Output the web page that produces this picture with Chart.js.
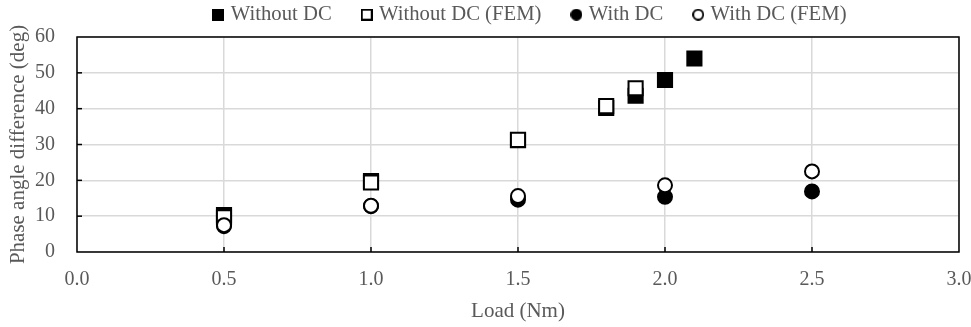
<!DOCTYPE html>
<html>
<head>
<meta charset="utf-8">
<script src="https://cdn.jsdelivr.net/npm/chart.js@4"></script>
<style>
  html, body { margin: 0; padding: 0; background: #fff; }
  #wrap { width: 971px; height: 327px; }
</style>
</head>
<body>
<div id="wrap"><canvas id="chart"></canvas></div>
<script>
// ───── Phase angle difference vs load ─────────────────────────────────────
const loadWithoutDC     = [0.5, 1.0, 1.5, 1.8, 1.9, 2.0, 2.1];
const phaseWithoutDC    = [10.3, 19.8, 31.2, 40.2, 43.6, 48.0, 54.0];
const loadWithoutDCFem  = [0.5, 1.0, 1.5, 1.8, 1.9];
const phaseWithoutDCFem = [9.7, 19.4, 31.3, 40.7, 45.7];
const loadWithDC        = [0.5, 1.0, 1.5, 2.0, 2.5];
const phaseWithDC       = [7.2, 12.8, 14.6, 15.4, 16.9];
const loadWithDCFem     = [0.5, 1.0, 1.5, 2.0, 2.5];
const phaseWithDCFem    = [7.5, 12.9, 15.6, 18.6, 22.5];

const FONT = '"Liberation Serif", "Times New Roman", serif';
const TEXT = '#595959';

const toPoints = (xs, ys) => xs.map((x, i) => ({ x, y: ys[i] }));

// Small legend icons (square / circle, filled or hollow).
function legendIcon(shape, filled) {
  const c = document.createElement('canvas');
  c.width = 12;
  c.height = 12;
  const g = c.getContext('2d');
  g.fillStyle = filled ? '#000' : '#fff';
  g.strokeStyle = '#000';
  g.lineWidth = 2;
  g.beginPath();
  if (shape === 'rect') g.rect(1, 1, 10, 10);
  else g.arc(6, 6, 5, 0, Math.PI * 2);
  g.fill();
  g.stroke();
  return c;
}
const icons = [
  legendIcon('rect', true),
  legendIcon('rect', false),
  legendIcon('circle', true),
  legendIcon('circle', false),
];

// Inner tick marks, the black frame, and a nudge for the legend block.
const frame = {
  id: 'frame',
  afterLayout(chart) {
    const lg = chart.legend;
    lg.left += 52;
    lg.right += 52;
    lg.top -= 2;
    lg.bottom -= 2;
  },
  beforeDatasetsDraw(chart) {
    const { ctx, chartArea: a, scales: { x, y } } = chart;
    ctx.save();
    ctx.strokeStyle = '#000';
    ctx.lineWidth = 1.5;
    for (let v = 0.5; v < 3; v += 0.5) {
      const px = x.getPixelForValue(v);
      ctx.beginPath();
      ctx.moveTo(px, a.bottom);
      ctx.lineTo(px, a.bottom - 5);
      ctx.stroke();
    }
    for (let v = 10; v < 60; v += 10) {
      const py = y.getPixelForValue(v);
      ctx.beginPath();
      ctx.moveTo(a.left, py);
      ctx.lineTo(a.left + 5, py);
      ctx.stroke();
    }
    ctx.strokeRect(a.left, a.top, a.right - a.left, a.bottom - a.top);
    ctx.restore();
  },
};

const marker = (label, data, style, filled, order) => ({
  label,
  data,
  order,
  pointStyle: style,
  pointRadius: style === 'rect' ? 10 : 7,
  pointHoverRadius: style === 'rect' ? 10 : 7,
  pointBorderWidth: 2,
  borderWidth: 2,
  borderColor: '#000',
  backgroundColor: filled ? '#000' : '#fff',
  pointBackgroundColor: filled ? '#000' : '#fff',
  pointBorderColor: '#000',
  showLine: false,
});

new Chart(document.getElementById('chart'), {
  type: 'scatter',
  data: {
    datasets: [
      marker('Without DC', toPoints(loadWithoutDC, phaseWithoutDC), 'rect', true, 3),
      marker('Without DC (FEM)', toPoints(loadWithoutDCFem, phaseWithoutDCFem), 'rect', false, 2),
      marker('With DC', toPoints(loadWithDC, phaseWithDC), 'circle', true, 1),
      marker('With DC (FEM)', toPoints(loadWithDCFem, phaseWithDCFem), 'circle', false, 0),
    ],
  },
  options: {
    responsive: true,
    maintainAspectRatio: false,
    animation: false,
    layout: { padding: { left: 0, right: 12, top: -26.7, bottom: 0 } },
    plugins: {
      legend: {
        position: 'top',
        labels: {
          usePointStyle: true,
          pointStyleWidth: 4,
          padding: 33,
          color: TEXT,
          font: { family: FONT, size: 20.7 },
          generateLabels(chart) {
            const items = Chart.defaults.plugins.legend.labels.generateLabels(chart);
            items.sort((a, b) => a.datasetIndex - b.datasetIndex);
            items.forEach((it) => { it.pointStyle = icons[it.datasetIndex]; });
            return items;
          },
        },
      },
      tooltip: { enabled: false },
    },
    scales: {
      x: {
        type: 'linear',
        min: 0,
        max: 3,
        afterFit(s) {
          s.height = 75;
          s.paddingLeft = 0;
          s.paddingRight = 12;
        },
        ticks: {
          stepSize: 0.5,
          color: TEXT,
          font: { family: FONT, size: 20 },
          padding: 16,
          callback: (v) => v.toFixed(1),
        },
        grid: { color: '#d9d9d9', lineWidth: 1.5, drawTicks: false },
        border: { display: false },
        title: {
          display: true,
          text: 'Load (Nm)',
          color: TEXT,
          font: { family: FONT, size: 21 },
          padding: { top: 0, bottom: 3 },
        },
      },
      y: {
        min: 0,
        max: 60,
        afterFit(s) {
          s.width = 77;
          s.paddingTop = 36;
          s.paddingBottom = 0;
        },
        ticks: {
          stepSize: 10,
          color: TEXT,
          font: { family: FONT, size: 20 },
          padding: 22,
        },
        grid: { color: '#d9d9d9', lineWidth: 1.5, drawTicks: false },
        border: { display: false },
        title: {
          display: true,
          text: 'Phase angle difference (deg)',
          color: TEXT,
          font: { family: FONT, size: 21 },
          padding: { top: 6, bottom: 0 },
        },
      },
    },
  },
  plugins: [frame],
});
</script>
</body>
</html>
